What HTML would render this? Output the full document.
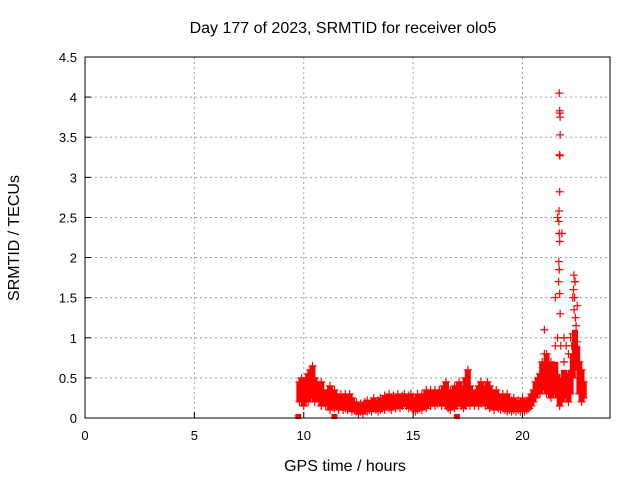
<!DOCTYPE html>
<html><head><meta charset="utf-8"><style>
body{margin:0;background:#fff;}
svg{display:block;font-family:"Liberation Sans",sans-serif;}
</style></head><body>
<svg id="chart" width="640" height="480">
<text x="343" y="33" font-size="16" text-anchor="middle">Day 177 of 2023, SRMTID for receiver olo5</text>
<text x="345" y="471" font-size="16" text-anchor="middle">GPS time / hours</text>
<text x="0" y="0" font-size="16" text-anchor="middle" transform="translate(19,238) rotate(-90)">SRMTID / TECUs</text>
<g id="grid"></g><g id="marks"></g><g id="axes"></g>
</svg>
<script>
const xTicks=[0,5,10,15,20];
const yTicks=[0,0.5,1,1.5,2,2.5,3,3.5,4,4.5];
const yTickLabels=["0","0.5","1","1.5","2","2.5","3","3.5","4","4.5"];
const times=[9.8,9.9,10.0,10.1,10.2,10.3,10.4,10.5,10.6,10.7,10.8,10.9,11.0,11.1,11.2,11.3,11.4,11.5,11.6,11.7,11.8,11.9,12.0,12.1,12.2,12.3,12.4,12.5,12.6,12.7,12.8,12.9,13.0,13.1,13.2,13.3,13.4,13.5,13.6,13.7,13.8,13.9,14.0,14.1,14.2,14.3,14.4,14.5,14.6,14.7,14.8,14.9,15.0,15.1,15.2,15.3,15.4,15.5,15.6,15.7,15.8,15.9,16.0,16.1,16.2,16.3,16.4,16.5,16.6,16.7,16.8,16.9,17.0,17.1,17.2,17.3,17.4,17.5,17.6,17.7,17.8,17.9,18.0,18.1,18.2,18.3,18.4,18.5,18.6,18.7,18.8,18.9,19.0,19.1,19.2,19.3,19.4,19.5,19.6,19.7,19.8,19.9,20.0,20.1,20.2,20.3,20.4,20.5,20.6,20.7,20.8,20.9,21.0,21.1,21.2,21.3,21.4,21.5,21.6,21.7,21.8,21.9,22.0,22.1,22.2,22.3,22.4,22.5,22.6,22.7,22.8];
const upper=[0.45,0.5,0.45,0.5,0.55,0.6,0.65,0.5,0.45,0.4,0.45,0.35,0.3,0.35,0.4,0.3,0.35,0.3,0.25,0.3,0.25,0.3,0.25,0.3,0.25,0.2,0.2,0.15,0.18,0.15,0.2,0.22,0.18,0.2,0.25,0.2,0.22,0.25,0.2,0.28,0.25,0.3,0.25,0.28,0.25,0.3,0.25,0.28,0.3,0.25,0.28,0.3,0.25,0.2,0.3,0.25,0.3,0.25,0.35,0.3,0.35,0.3,0.35,0.3,0.35,0.3,0.4,0.45,0.3,0.35,0.3,0.4,0.35,0.45,0.4,0.35,0.5,0.6,0.4,0.35,0.3,0.35,0.4,0.45,0.4,0.35,0.45,0.4,0.35,0.3,0.35,0.3,0.25,0.3,0.25,0.3,0.25,0.22,0.25,0.2,0.22,0.2,0.25,0.2,0.22,0.25,0.3,0.35,0.45,0.5,0.55,0.7,1.1,0.8,0.6,0.7,0.65,1.5,2.5,3.8,2.3,1.0,0.9,0.8,1.0,1.5,1.7,1.4,0.7,0.6,0.45];
const lower=[0.2,0.25,0.15,0.3,0.2,0.25,0.3,0.2,0.25,0.2,0.15,0.2,0.15,0.2,0.1,0.15,0.12,0.15,0.1,0.15,0.1,0.12,0.1,0.15,0.08,0.1,0.08,0.05,0.08,0.05,0.1,0.08,0.1,0.08,0.12,0.1,0.08,0.1,0.12,0.1,0.15,0.12,0.1,0.15,0.12,0.15,0.12,0.15,0.18,0.15,0.12,0.15,0.1,0.08,0.1,0.12,0.1,0.15,0.12,0.18,0.15,0.2,0.15,0.18,0.2,0.15,0.2,0.15,0.12,0.1,0.15,0.12,0.15,0.2,0.15,0.12,0.15,0.2,0.15,0.2,0.15,0.2,0.15,0.18,0.2,0.15,0.2,0.12,0.15,0.1,0.15,0.12,0.1,0.12,0.1,0.08,0.1,0.08,0.1,0.08,0.1,0.08,0.1,0.08,0.1,0.12,0.15,0.2,0.25,0.3,0.3,0.35,0.4,0.3,0.35,0.25,0.3,0.4,0.25,0.15,0.2,0.3,0.25,0.2,0.3,0.5,0.8,0.6,0.3,0.2,0.25];
const extraTimes=[21.68,21.7,21.72,21.72,21.69,21.71,21.7,21.67,21.66,21.68,21.7,21.66,21.68,21.65,21.7,21.72,21.6,21.75,22.35,22.4,22.33,22.38,22.36,22.42,22.3,22.25,22.45,21.0,21.05,21.5,21.9,22.1,22.3,22.5];
const extraValues=[4.05,3.83,3.75,3.53,3.28,3.27,2.82,2.58,2.45,2.3,2.2,1.95,1.85,1.7,1.55,1.3,1.0,0.9,1.78,1.7,1.6,1.5,1.35,1.25,1.05,0.9,1.15,0.8,0.6,0.9,0.7,0.55,0.75,0.95];
const zeroTimes=[9.75,11.4,17.0];
const L=85,R=610,T=57,B=418,XMAX=24,YMAX=4.5;
const xs=v=>L+(R-L)*v/XMAX, ys=v=>B-(B-T)*v/YMAX;
const NS="http://www.w3.org/2000/svg";
function mk(tag,attrs,parent){const e=document.createElementNS(NS,tag);for(const k in attrs)e.setAttribute(k,attrs[k]);parent.appendChild(e);return e;}
const grid=document.getElementById('grid'),marks=document.getElementById('marks'),axes=document.getElementById('axes');
xTicks.forEach(t=>{if(t>0){const g=mk('line',{x1:xs(t),x2:xs(t),y1:T,y2:B,stroke:'#a0a0a0','stroke-dasharray':'2,3'},grid);

}
const tk=mk('line',{x1:xs(t),x2:xs(t),y1:B,y2:B-6,stroke:'#000'},axes);


const lb=mk('text',{x:xs(t),y:B+22,'font-size':13,'text-anchor':'middle'},axes);lb.textContent=t;

});
yTicks.forEach((t,i)=>{if(t>0&&t<YMAX){const g=mk('line',{x1:L,x2:R,y1:ys(t),y2:ys(t),stroke:'#a0a0a0','stroke-dasharray':'2,3'},grid);

}
const tk=mk('line',{x1:L,x2:L+6,y1:ys(t),y2:ys(t),stroke:'#000'},axes);


const lb=mk('text',{x:L-8,y:ys(t)+5,'font-size':13,'text-anchor':'end'},axes);lb.textContent=yTickLabels[i];

});
const frame=mk('rect',{x:L,y:T,width:R-L,height:B-T,fill:'none',stroke:'#000'},axes);


function plus(x,y){const p=mk('path',{d:`M${x-4},${y}h8M${x},${y-4}v8`,stroke:'#f00','stroke-width':1.2,fill:'none'},marks);

}
times.forEach((t,i)=>{
const top=upper[i]-lower[i]>0.6?lower[i]+0.3:upper[i];
const r=mk('rect',{x:xs(t)-3,y:ys(top),width:6,height:Math.max(1,ys(lower[i])-ys(top)),fill:'#f00'},marks);


plus(xs(t),ys(upper[i]));plus(xs(t),ys(lower[i]));});
extraTimes.forEach((t,i)=>plus(xs(t),ys(extraValues[i])));
zeroTimes.forEach(t=>{const s=mk('rect',{x:xs(t)-3,y:B-4,width:6,height:5,fill:'#f00'},marks);

});
</script>
</body></html>
